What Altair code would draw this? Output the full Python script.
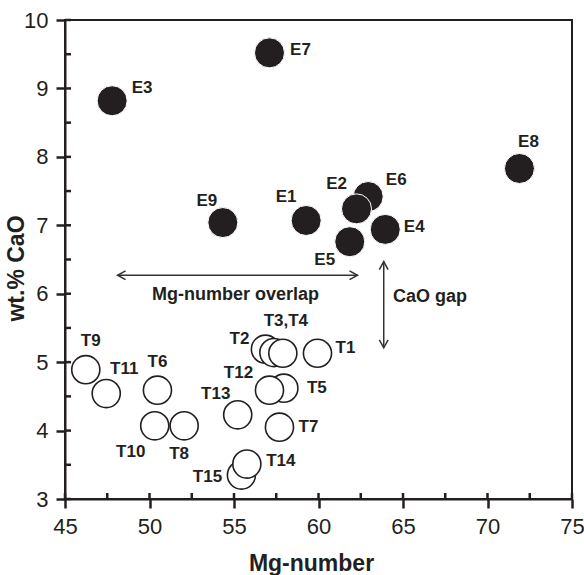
import altair as alt
import pandas as pd

# ---- data ----
e_names = ["E7", "E3", "E9", "E1", "E6", "E2", "E4", "E5", "E8"]
e_mg = [57.10, 47.79, 54.34, 59.27, 62.94, 62.25, 63.95, 61.85, 71.89]
e_cao = [9.52, 8.82, 7.04, 7.07, 7.42, 7.24, 6.94, 6.76, 7.83]

t_names = ["T9", "T11", "T6", "T10", "T8", "T13", "T2", "T3", "T4", "T1",
           "T5", "T12", "T7", "T15", "T14"]
t_labels = ["T9", "T11", "T6", "T10", "T8", "T13", "T2", "", "T3,T4", "T1",
            "T5", "T12", "T7", "T15", "T14"]
t_mg = [46.23, 47.44, 50.47, 50.31, 52.05, 55.22, 56.86, 57.36, 57.89, 59.94,
        57.95, 57.10, 57.69, 55.44, 55.76]
t_cao = [4.89, 4.54, 4.59, 4.07, 4.07, 4.23, 5.19, 5.14, 5.13, 5.13,
         4.62, 4.59, 4.05, 3.35, 3.51]

# label offsets (pixels)
e_dx = [31, 30, -16, -20, 28, -20, 29, -25, 9]
e_dy = [-3, -13, -22, -23, -17, -25, -2, 18, -26]
t_dx = [5, 18, 0, -24, -5, -22, -26, 0, 3, 28, 33, -31, 29, -34, 34]
t_dy = [-29, -25, -28, 26, 28, -21, -10, 0, -32, -5, 0, -17, 0, 2, -3]

# annotation arrows and texts
arrow_mg = [48.11, 63.86]
arrow_mg2 = [62.31, 63.86]
arrow_cao = [6.27, 6.47]
arrow_cao2 = [6.27, 5.21]
head_mg = [48.11, 62.31, 63.86, 63.86]
head_cao = [6.27, 6.27, 6.47, 5.21]
head_ang = [0, 180, 90, 270]
note_text = ["Mg-number overlap", "CaO gap"]
note_mg = [55.09, 66.6]
note_cao = [5.91, 5.88]

x_ticks = [45 + 2.5 * i for i in range(13)]
y_ticks = [3 + 0.5 * i for i in range(15)]

W, H = 507, 479
INK = "#231f20"
FONT = "Liberation Sans"

e_df = pd.DataFrame({"mg": e_mg, "cao": e_cao, "label": e_names, "dx": e_dx, "dy": e_dy})
t_df = pd.DataFrame({"mg": t_mg, "cao": t_cao, "label": t_labels, "dx": t_dx, "dy": t_dy})
arr_df = pd.DataFrame({"mg": arrow_mg, "mg2": arrow_mg2, "cao": arrow_cao, "cao2": arrow_cao2})
head_df = pd.DataFrame({"mg": head_mg, "cao": head_cao, "ang": head_ang})
note_df = pd.DataFrame({"mg": note_mg, "cao": note_cao, "text": note_text})
xt_df = pd.DataFrame({"mg": x_ticks})
yt_df = pd.DataFrame({"cao": y_ticks})

xscale = alt.Scale(domain=[45, 75], nice=False, zero=False)
yscale = alt.Scale(domain=[3, 10], nice=False, zero=False)

xaxis = alt.Axis(
    values=x_ticks, title="Mg-number",
    labelExpr="datum.value % 5 === 0 ? '' + datum.value : ''",
    tickSize=9, tickWidth=2.5, tickColor=INK,
    tickOpacity={"condition": {"test": "datum.value % 5 === 0", "value": 1}, "value": 0},
    grid=False,
    domainColor=INK, domainWidth=2,
    labelFontSize=22, labelColor=INK, labelPadding=8, labelFont=FONT,
    labelFlush=False, labelOverlap=False,
    titleFontSize=23, titleFontWeight="bold", titleColor=INK, titleFont=FONT,
    titleX=246, titleY=71, titleBaseline="alphabetic", titleAlign="center",
)
yaxis = alt.Axis(
    values=y_ticks, title="wt.% CaO",
    labelExpr="datum.value % 1 === 0 ? '' + datum.value : ''",
    tickSize=9, tickWidth=2.5, tickColor=INK,
    tickOpacity={"condition": {"test": "datum.value % 1 === 0", "value": 1}, "value": 0},
    grid=False,
    domainColor=INK, domainWidth=2,
    labelFontSize=22, labelColor=INK, labelPadding=8, labelFont=FONT,
    labelFlush=False, labelOverlap=False,
    titleFontSize=23, titleFontWeight="bold", titleColor=INK, titleFont=FONT,
    titleX=-42, titleY=248, titleBaseline="alphabetic", titleAlign="center", titleAngle=270,
)

X = alt.X("mg:Q", scale=xscale, axis=xaxis)
Y = alt.Y("cao:Q", scale=yscale, axis=yaxis)

# inward tick marks on the two axes
xin = alt.Chart(xt_df).mark_rule(color=INK, strokeWidth=2.5).encode(
    x=X, y=alt.value(H), y2=alt.value(H - 6)
)
yin = alt.Chart(yt_df).mark_tick(color=INK, thickness=2.5, size=6, orient="horizontal", opacity=1).encode(
    y=Y, x=alt.value(3)
)

filled = alt.Chart(e_df).mark_circle(size=900, fill=INK, stroke="white", strokeWidth=1, opacity=1).encode(x=X, y=Y)
openc = alt.Chart(t_df).mark_circle(size=790, fill="white", stroke=INK, strokeWidth=1.6, opacity=1).encode(x=X, y=Y)

def labels(df):
    return alt.Chart(df).mark_text(
        fontSize=17, fontWeight="bold", font=FONT, color=INK, align="center", baseline="middle",
        dx={"expr": "datum.dx"}, dy={"expr": "datum.dy"},
    ).encode(x=X, y=Y, text="label:N")

rules = alt.Chart(arr_df).mark_rule(color="#333333", strokeWidth=1.5).encode(
    x=X, x2="mg2:Q", y=Y, y2="cao2:Q"
)
heads = alt.Chart(head_df).mark_point(
    shape="M 1 -0.55 L 0 0 L 1 0.55", filled=False, size=256, color="#333333",
    strokeWidth=1.5, opacity=1
).encode(x=X, y=Y, angle=alt.Angle("ang:Q", scale=None))

notes = alt.Chart(note_df).mark_text(
    fontSize=18, fontWeight="bold", font=FONT, color=INK, align="center", baseline="alphabetic"
).encode(x=X, y=Y, text="text:N")

chart = alt.layer(xin, yin, rules, heads, notes, filled, openc, labels(e_df), labels(t_df)).properties(
    width=W, height=H,
    autosize=alt.AutoSizeParams(type="none"),
    padding={"left": 65, "top": 20, "right": 12, "bottom": 76},
).configure_view(stroke=INK, strokeWidth=2)

chart.save("out.html", embed_options={"renderer": "svg", "actions": False})
